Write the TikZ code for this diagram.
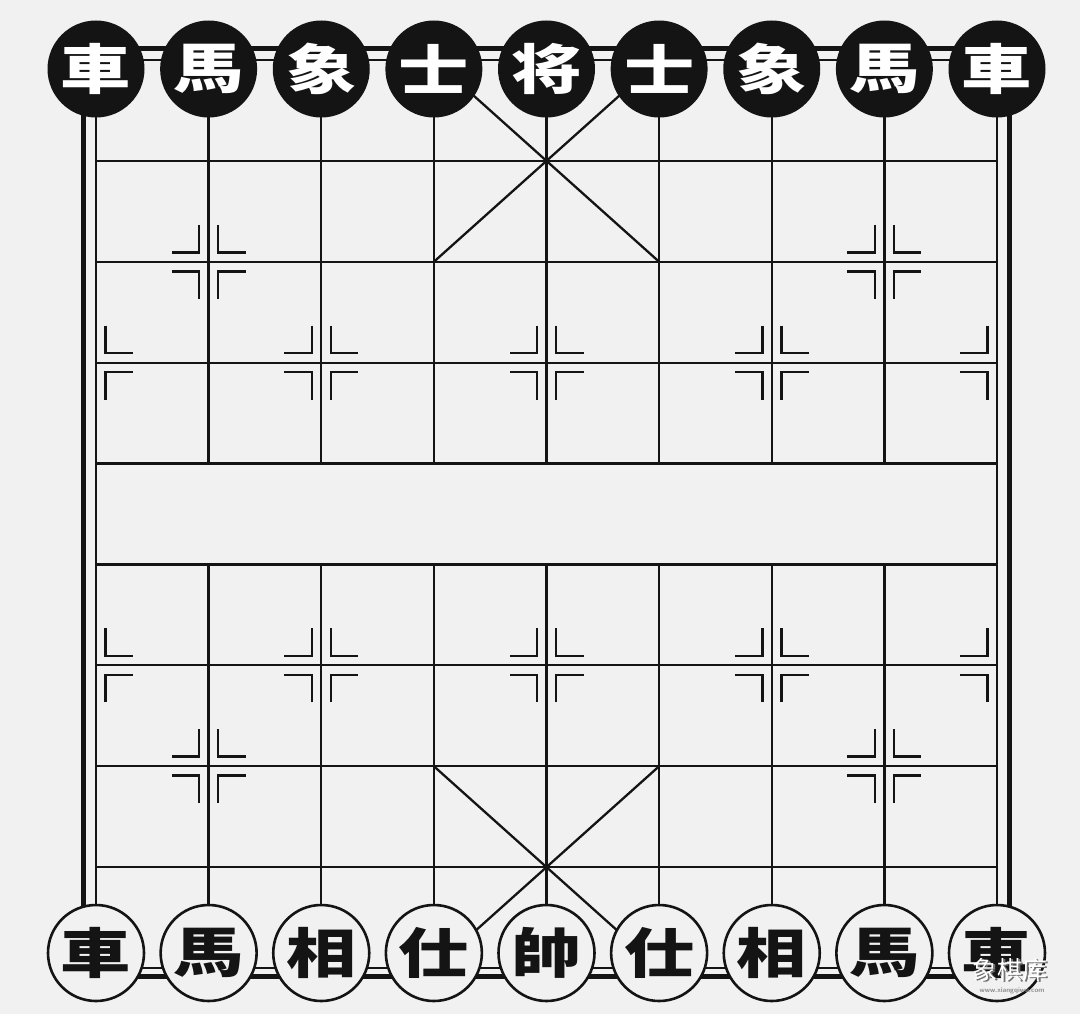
\documentclass[tikz,border=0pt]{standalone}
\usepackage{fontspec}
\newfontfamily\cjk{Noto Sans CJK SC}
\definecolor{bg}{RGB}{242,241,241}
\definecolor{ink}{RGB}{20,20,20}
\tikzset{
  gridline/.style={line width=2.3pt, draw=ink},
  edgeline/.style={line width=2.8pt, draw=ink},
  frameline/.style={line width=5pt, draw=ink},
  markline/.style={line width=2.5pt, draw=ink},
  blackpiece/.style={circle, minimum size=97pt, inner sep=0pt, fill=ink, text=white, font=\cjk\bfseries\fontsize{54}{54}\selectfont, yshift=-9pt},
  redpiece/.style={circle, minimum size=96pt, inner sep=0pt, fill=bg, draw=ink, line width=2.6pt, text=ink, font=\cjk\bfseries\fontsize{54}{54}\selectfont, yshift=15pt},
}
\newcommand\pc[1]{\scalebox{1.3}[1]{#1}}
\begin{document}
\begin{tikzpicture}[x=1pt,y=-1pt]
\useasboundingbox[fill=bg] (0,0) rectangle (1080,1014);
% outer frame
\draw[frameline] (83,49) rectangle (1009,976);
\begin{scope}[shift={(96,60)}, x=112.625pt, y=-100.89pt]
  % horizontal lines
  \foreach \j in {1,...,8} \draw[gridline] (0,\j) -- (8,\j);
  % interior vertical lines (broken at the river)
  \foreach \i in {1,...,7} {
    \draw[gridline] (\i,0) -- (\i,4);
    \draw[gridline] (\i,5) -- (\i,9);
  }
  % inner border
  \draw[edgeline] (0,0) rectangle (8,9);
  % palaces
  \draw[gridline] (3,0) -- (5,2) (5,0) -- (3,2);
  \draw[gridline] (3,7) -- (5,9) (5,7) -- (3,9);
  % position marks
  \foreach \i/\j in {1/2,7/2,1/7,7/7,0/3,2/3,4/3,6/3,8/3,0/6,2/6,4/6,6/6,8/6} {
    \foreach \sx in {-1,1} {
      \pgfmathtruncatemacro\skip{((\i==0)&&(\sx==-1)) || ((\i==8)&&(\sx==1))}
      \ifnum\skip=0
        \foreach \sy in {-1,1}
          \draw[markline, shift={(\i,\j)}] (\sx*9.5pt,\sy*37pt) -- (\sx*9.5pt,\sy*9.5pt) -- (\sx*37pt,\sy*9.5pt);
      \fi
    }
  }
  % black pieces
  \node[blackpiece] (b0) at (0,0) {\pc{車}};
  \node[blackpiece] (b1) at (1,0) {\pc{馬}};
  \node[blackpiece] (b2) at (2,0) {\pc{象}};
  \node[blackpiece] (b3) at (3,0) {\pc{士}};
  \node[blackpiece] (b4) at (4,0) {\pc{将}};
  \node[blackpiece] (b5) at (5,0) {\pc{士}};
  \node[blackpiece] (b6) at (6,0) {\pc{象}};
  \node[blackpiece] (b7) at (7,0) {\pc{馬}};
  \node[blackpiece] (b8) at (8,0) {\pc{車}};
  % red pieces
  \node[redpiece] (r0) at (0,9) {\pc{車}};
  \node[redpiece] (r1) at (1,9) {\pc{馬}};
  \node[redpiece] (r2) at (2,9) {\pc{相}};
  \node[redpiece] (r3) at (3,9) {\pc{仕}};
  \node[redpiece] (r4) at (4,9) {\pc{帥}};
  \node[redpiece] (r5) at (5,9) {\pc{仕}};
  \node[redpiece] (r6) at (6,9) {\pc{相}};
  \node[redpiece] (r7) at (7,9) {\pc{馬}};
  \node[redpiece] (r8) at (8,9) {\pc{車}};
\end{scope}
% watermark
\node[text=black!55, font=\cjk\fontsize{25}{25}\selectfont] (wmshadow) at (1011.5,971.5) {象棋库};
\node[text=white, font=\cjk\fontsize{25}{25}\selectfont] (wm) at (1010,970) {象棋库};
\node[text=black!45, font=\sffamily\bfseries\fontsize{7}{7}\selectfont] (wmurl) at (1012,991) {www.xiangqiwu.com};
\end{tikzpicture}
\end{document}
